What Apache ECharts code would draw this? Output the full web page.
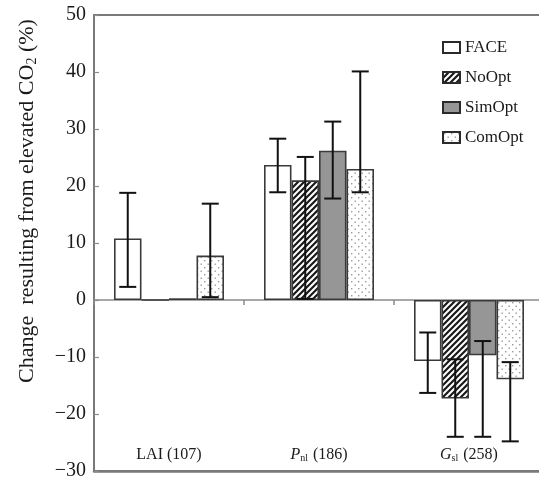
<!DOCTYPE html>
<html>
<head>
<meta charset="utf-8">
<script src="https://cdn.jsdelivr.net/npm/echarts@6/dist/echarts.min.js"></script>
<style>html,body{margin:0;padding:0;background:#fff;}#chart{width:539px;height:480px;}</style>
</head>
<body>
<div id="chart"></div>
<script>
// ---- data ----
var categories = ['LAI (107)', 'Pnl (186)', 'Gsl (258)'];
var seriesNames = ['FACE', 'NoOpt', 'SimOpt', 'ComOpt'];
var faceVals   = [10.8, 23.7, -10.7];
var noOptVals  = [0, 21.0, -17.3];
var simOptVals = [0.3, 26.2, -9.7];
var comOptVals = [7.8, 23.0, -13.9];
// error bar ranges [low, high]
var faceErr   = [[2.3, 18.8], [18.9, 28.3], [-16.3, -5.7]];
var noOptErr  = [null, [0.2, 25.1], [-24.0, -10.4]];
var simOptErr = [null, [17.8, 31.3], [-24.0, -7.2]];
var comOptErr = [[0.5, 16.9], [18.9, 40.1], [-24.8, -10.9]];
var yTicks = { min: -30, max: 50, interval: 10 };

// ---- styles ----
var FONT = 'Liberation Serif';
var BAR_W = 27.5;

function hatchPattern() {
  var c = document.createElement('canvas');
  var s = 6;
  c.width = s; c.height = s;
  var g = c.getContext('2d');
  g.fillStyle = '#fff'; g.fillRect(0, 0, s, s);
  g.strokeStyle = '#1a1a1a'; g.lineWidth = 2.2;
  g.beginPath();
  g.moveTo(-1, s + 1); g.lineTo(s + 1, -1);
  g.moveTo(-1, 1); g.lineTo(1, -1);
  g.moveTo(s - 1, s + 1); g.lineTo(s + 1, s - 1);
  g.stroke();
  return { image: c, repeat: 'repeat' };
}
function dotPattern() {
  var c = document.createElement('canvas');
  var s = 7;
  c.width = s; c.height = s;
  var g = c.getContext('2d');
  g.fillStyle = '#fff'; g.fillRect(0, 0, s, s);
  g.fillStyle = '#9a9a9a';
  g.fillRect(1, 1, 1.4, 1.4);
  g.fillRect(4.5, 4.5, 1.4, 1.4);
  return { image: c, repeat: 'repeat' };
}

var fills = ['#ffffff', hatchPattern(), '#969696', dotPattern()];
var valueLists = [faceVals, noOptVals, simOptVals, comOptVals];
var errLists = [faceErr, noOptErr, simOptErr, comOptErr];

var catRich = {
  'LAI (107)': '{n|LAI (107)}',
  'Pnl (186)': '{i|P}{s|nl}{n| (186)}',
  'Gsl (258)': '{i|G}{s|sl}{n| (258)}'
};

var series = seriesNames.map(function (name, i) {
  return {
    name: name,
    type: 'bar',
    xAxisIndex: 0,
    barWidth: BAR_W,
    barGap: '0%',
    data: valueLists[i],
    itemStyle: { color: fills[i], borderColor: '#3a3a3a', borderWidth: 1.6 },
    emphasis: { disabled: true }
  };
});

var errData = [];
errLists.forEach(function (lst, s) {
  lst.forEach(function (r, c) {
    if (r) errData.push([c, r[0], r[1], s]);
  });
});

series.push({
  type: 'custom',
  xAxisIndex: 0,
  z: 10,
  silent: true,
  data: errData,
  encode: { x: 0, y: [1, 2] },
  renderItem: function (params, api) {
    var c = api.value(0), lo = api.value(1), hi = api.value(2), s = api.value(3);
    var p1 = api.coord([c, lo]);
    var p2 = api.coord([c, hi]);
    var x = p1[0] + (s - 1.5) * BAR_W;
    var h = 8.5;
    var st = { stroke: '#111', lineWidth: 2 };
    return {
      type: 'group',
      children: [
        { type: 'line', shape: { x1: x, y1: p1[1], x2: x, y2: p2[1] }, style: st },
        { type: 'line', shape: { x1: x - h, y1: p1[1], x2: x + h, y2: p1[1] }, style: st },
        { type: 'line', shape: { x1: x - h, y1: p2[1], x2: x + h, y2: p2[1] }, style: st }
      ]
    };
  }
});

var chart = echarts.init(document.getElementById('chart'), null, { renderer: 'canvas' });
chart.setOption({
  animation: false,
  backgroundColor: '#fff',
  textStyle: { fontFamily: FONT },
  grid: {
    left: 94, top: 15, width: 450, height: 456,
    outerBoundsMode: 'none', containLabel: false,
    show: true, borderColor: '#7a7a7a', borderWidth: 2, backgroundColor: 'transparent'
  },
  legend: {
    data: seriesNames,
    orient: 'vertical',
    left: 437,
    top: 34,
    icon: 'rect',
    itemWidth: 17,
    itemHeight: 11,
    itemGap: 13,
    selectedMode: false,
    textStyle: { fontFamily: FONT, fontSize: 17, color: '#1a1a1a' },
    itemStyle: { borderColor: '#2a2a2a', borderWidth: 2 }
  },
  xAxis: [{
    type: 'category',
    data: categories,
    axisLine: { onZero: true, lineStyle: { color: '#8a8a8a', width: 1.5 } },
    axisTick: { show: true, length: 5, lineStyle: { color: '#8a8a8a', width: 1.5 } },
    axisLabel: { show: false },
    splitLine: { show: false }
  }, {
    type: 'category',
    data: categories,
    position: 'bottom',
    axisLine: { show: true, lineStyle: { color: '#7a7a7a', width: 2.5 } },
    axisTick: { show: false },
    axisLabel: {
      inside: true,
      margin: 8,
      formatter: function (v) { return catRich[v]; },
      rich: {
        n: { fontFamily: FONT, fontSize: 16, color: '#1a1a1a' },
        i: { fontFamily: FONT, fontSize: 16, fontStyle: 'italic', color: '#1a1a1a' },
        s: { fontFamily: FONT, fontSize: 10, color: '#1a1a1a', verticalAlign: 'bottom', padding: [6, 1, 0, 0] }
      }
    }
  }],
  yAxis: {
    type: 'value',
    min: yTicks.min,
    max: yTicks.max,
    interval: yTicks.interval,
    axisLine: { show: true, lineStyle: { color: '#7a7a7a', width: 2 } },
    axisTick: { show: true, inside: true, length: 5, lineStyle: { color: '#8a8a8a', width: 1.2 } },
    splitLine: { show: false },
    axisLabel: {
      margin: 8,
      fontFamily: FONT,
      fontSize: 20,
      color: '#1a1a1a',
      formatter: function (v) { return String(v).replace('-', '\u2212'); }
    },
    name: '{n|Change  resulting from elevated CO}{sub|2}{n| (%)}',
    nameLocation: 'middle',
    nameRotate: 90,
    nameGap: 55,
    nameTextStyle: {
      padding: [0, 0, 0, 84],
      rich: {
        n: { fontFamily: FONT, fontSize: 22, color: '#1a1a1a' },
        sub: { fontFamily: FONT, fontSize: 14, color: '#1a1a1a', verticalAlign: 'bottom', padding: [9, 0, 0, 0] }
      }
    }
  },
  series: series
});
</script>
</body>
</html>
